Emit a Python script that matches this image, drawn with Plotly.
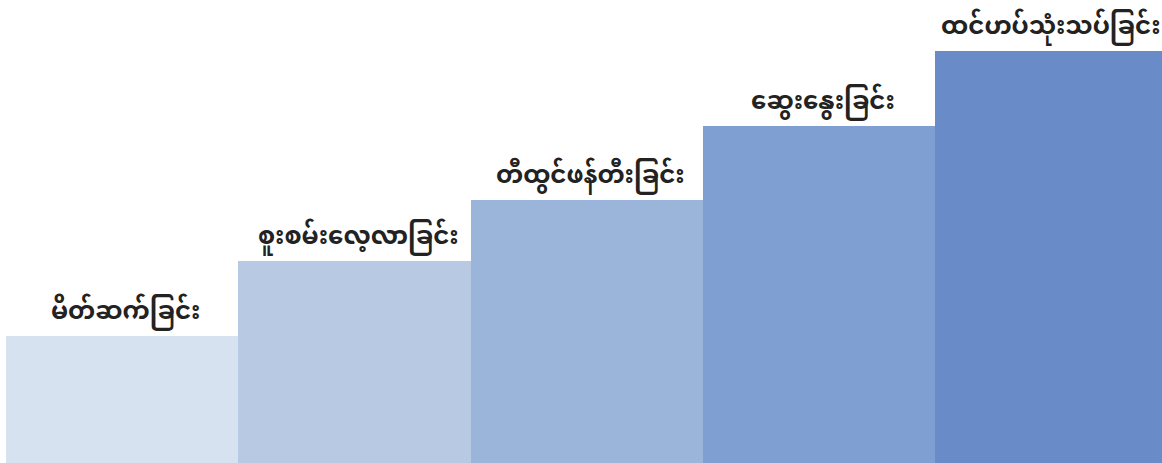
import plotly.graph_objects as go

stages = ["မိတ်ဆက်ခြင်း", "စူးစမ်းလေ့လာခြင်း", "တီထွင်ဖန်တီးခြင်း", "ဆွေးနွေးခြင်း", "ထင်ဟပ်သုံးသပ်ခြင်း"]
levels = [127, 202, 263, 337, 412]
colors = ["#d6e2ef", "#b7c9e3", "#9bb4d9", "#7f9ed2", "#698bc7"]

fig = go.Figure(go.Bar(
    x=stages, y=levels,
    marker=dict(color=colors, line=dict(width=0)),
    hoverinfo="skip",
))
for i, (s, v) in enumerate(zip(stages, levels)):
    fig.add_annotation(
        x=s, y=v, text=s, showarrow=False,
        xanchor="center", yanchor="bottom",
        xshift=0 if i == len(stages) - 1 else 4, yshift=-6,
        font=dict(family="Noto Sans Myanmar, Padauk, Myanmar Text, Noto Sans, sans-serif",
                  size=24.5, color="#222222", weight="bold"),
    )
fig.update_layout(
    width=1162, height=463,
    margin=dict(l=6, r=0, t=0, b=0),
    paper_bgcolor="white", plot_bgcolor="white",
    bargap=0, showlegend=False,
    xaxis=dict(visible=False, range=[-0.5, 4.476]),
    yaxis=dict(visible=False, range=[0, 463]),
)
fig.write_html("out.html", config={"displayModeBar": False},
               post_script="document.body.style.margin='0';document.body.style.overflow='hidden';")
